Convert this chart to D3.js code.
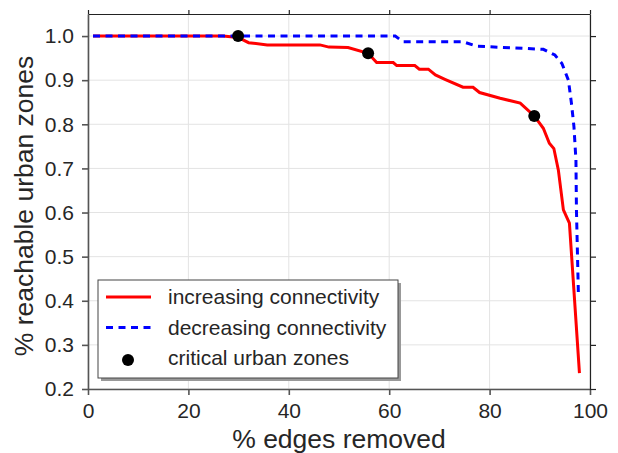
<!DOCTYPE html>
<html>
<head>
<meta charset="utf-8">
<script src="https://cdn.jsdelivr.net/npm/d3@7"></script>
<style>
  body { margin: 0; background: #fff; }
  text { font-family: "Liberation Sans", Arial, sans-serif; fill: #262626; }
  .grid line { stroke: #e3e3e3; stroke-width: 1; }
</style>
</head>
<body>
<svg id="chart"></svg>
<script>
// increasing connectivity (red)
const incX = [1, 26.9, 29.9, 32, 35.7, 46.2, 48, 51.8, 55.8, 57.5, 60.8, 61.5, 65.1, 66, 67.8, 69.2, 71.1, 74.7, 76.7, 78, 82.1, 86.1, 88.9, 90.7, 91.9, 92.8, 93.7, 94.7, 95.9, 97.9];
const incY = [1.0, 1.0, 0.997, 0.985, 0.98, 0.98, 0.975, 0.974, 0.961, 0.94, 0.94, 0.933, 0.933, 0.925, 0.925, 0.912, 0.902, 0.884, 0.884, 0.872, 0.859, 0.848, 0.819, 0.791, 0.757, 0.745, 0.696, 0.606, 0.576, 0.236];
// decreasing connectivity (blue dashed)
const decX = [1, 61.2, 62.8, 74.7, 77.4, 90.7, 93.0, 94.4, 95.7, 96.3, 96.8, 97.2, 97.3, 97.7];
const decY = [1.0, 1.0, 0.987, 0.987, 0.977, 0.97, 0.957, 0.938, 0.90, 0.848, 0.795, 0.719, 0.606, 0.409];
// critical urban zones
const critX = [29.9, 55.8, 88.9];
const critY = [1.0, 0.961, 0.819];

const xTicks = [0, 20, 40, 60, 80, 100];
const yTicks = [0.2, 0.3, 0.4, 0.5, 0.6, 0.7, 0.8, 0.9, 1.0];
const legendLabels = ['increasing connectivity', 'decreasing connectivity', 'critical urban zones'];

const fullWidth = 618;
const fullHeight = 453;
const margin = { top: 14, right: 28, bottom: 64, left: 88 };
const width = fullWidth - margin.left - margin.right;
const height = fullHeight - margin.top - margin.bottom;

const x = d3.scaleLinear().domain([0, 100]).range([0, width]);
const y = d3.scaleLinear().domain([0.2, 1.05]).range([height, 0]);

const svg = d3.select('#chart')
    .attr('width', fullWidth)
    .attr('height', fullHeight)
  .append('g')
    .attr('transform', `translate(${margin.left}, ${margin.top})`);

// grid
svg.append('g')
    .attr('class', 'grid')
  .selectAll('line.gx')
    .data(xTicks)
  .enter().append('line')
    .attr('x1', d => x(d)).attr('x2', d => x(d))
    .attr('y1', 0).attr('y2', height);

svg.append('g')
    .attr('class', 'grid')
  .selectAll('line.gy')
    .data(yTicks)
  .enter().append('line')
    .attr('x1', 0).attr('x2', width)
    .attr('y1', d => y(d)).attr('y2', d => y(d));

// axes
const styleAxis = (g, color, w) => {
  g.select('.domain').attr('stroke', color).attr('stroke-width', w);
  g.selectAll('.tick line').attr('stroke', color).attr('stroke-width', w);
  g.selectAll('.tick text')
    .style('font-family', '"Liberation Sans", Arial, sans-serif')
    .style('font-size', '21px')
    .attr('fill', '#262626');
};

svg.append('g')
    .attr('transform', `translate(0, ${height})`)
    .call(d3.axisBottom(x).tickValues(xTicks).tickSize(6).tickSizeOuter(0).tickPadding(8))
    .call(g => styleAxis(g, '#555', 1.6));

svg.append('g')
    .call(d3.axisLeft(y).tickValues(yTicks).tickFormat(d3.format('.1f')).tickSize(6).tickSizeOuter(0).tickPadding(8))
    .call(g => styleAxis(g, '#555', 1.6));

svg.append('g')
    .call(d3.axisTop(x).tickValues(xTicks).tickSize(4).tickSizeOuter(0).tickFormat(''))
    .call(g => styleAxis(g, '#222', 1.2));

svg.append('g')
    .attr('transform', `translate(${width}, 0)`)
    .call(d3.axisRight(y).tickValues(yTicks).tickSize(6).tickSizeOuter(0).tickFormat(''))
    .call(g => styleAxis(g, '#222', 1.2));

// axis titles
svg.append('text')
    .attr('x', width / 2)
    .attr('y', height + 59)
    .attr('text-anchor', 'middle')
    .style('font-size', '26.5px')
    .text('% edges removed');

svg.append('text')
    .attr('transform', `translate(${-55}, 192) rotate(-90)`)
    .attr('text-anchor', 'middle')
    .style('font-size', '26.5px')
    .text('% reachable urban zones');

// lines
const line = d3.line().x(d => x(d[0])).y(d => y(d[1]));

svg.append('path')
    .datum(d3.zip(incX, incY))
    .attr('fill', 'none')
    .attr('stroke', '#ff0000')
    .attr('stroke-width', 3)
    .attr('d', line);

svg.append('path')
    .datum(d3.zip(decX, decY))
    .attr('fill', 'none')
    .attr('stroke', '#0000ff')
    .attr('stroke-width', 3)
    .attr('stroke-dasharray', '7,5.5')
    .attr('d', line);

svg.selectAll('.dot')
    .data(d3.zip(critX, critY))
  .enter().append('circle')
    .attr('class', 'dot')
    .attr('r', 6)
    .attr('cx', d => x(d[0]))
    .attr('cy', d => y(d[1]))
    .attr('fill', '#000');

// legend
const lg = svg.append('g').attr('transform', 'translate(10, 266)');
lg.append('rect')
    .attr('x', 3).attr('y', 3)
    .attr('width', 300).attr('height', 98)
    .attr('fill', '#999');
lg.append('rect')
    .attr('width', 300).attr('height', 98)
    .attr('fill', '#fff')
    .attr('stroke', '#444')
    .attr('stroke-width', 1);

const rowY = d => 17 + d * 30.5;
lg.append('line')
    .attr('x1', 8).attr('x2', 53)
    .attr('y1', rowY(0)).attr('y2', rowY(0))
    .attr('stroke', '#ff0000').attr('stroke-width', 3);
lg.append('line')
    .attr('x1', 8).attr('x2', 53)
    .attr('y1', rowY(1)).attr('y2', rowY(1))
    .attr('stroke', '#0000ff').attr('stroke-width', 3)
    .attr('stroke-dasharray', '7,5.5');
lg.append('circle')
    .attr('cx', 30).attr('cy', rowY(2) + 2)
    .attr('r', 6)
    .attr('fill', '#000');

lg.selectAll('.lgtext')
    .data(legendLabels)
  .enter().append('text')
    .attr('x', 70)
    .attr('y', (d, i) => rowY(i))
    .attr('dy', '0.35em')
    .style('font-size', '21px')
    .text(d => d);
</script>
</body>
</html>
